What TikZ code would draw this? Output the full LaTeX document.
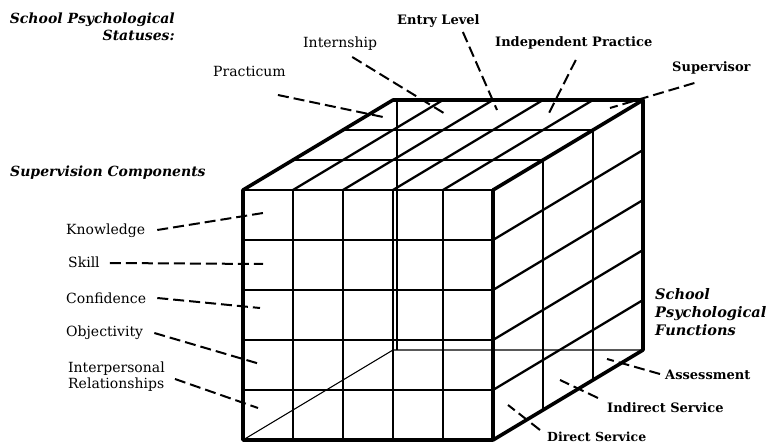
\documentclass[tikz,border=0pt]{standalone}
\usepackage{fontspec}
\setmainfont{DejaVu Serif}
\begin{document}
\begin{tikzpicture}[x=1pt,y=-1pt,
  edge/.style={line width=3.6pt, line cap=round, line join=round},
  gridln/.style={line width=2.3pt},
  hidden/.style={line width=1.1pt},
  lead/.style={line width=2pt, dash pattern=on 11pt off 5pt},
  lbl/.style={font=\fontsize{14}{16}\selectfont, inner sep=0pt},
  blbl/.style={font=\fontsize{13}{16}\selectfont\bfseries, inner sep=0pt},
  head/.style={font=\fontsize{14}{17}\selectfont\bfseries\itshape, inner sep=0pt, align=right}]
\useasboundingbox (0,0) rectangle (770,443);

% cube corners
\coordinate (A) at (243,190);
\coordinate (B) at (493,190);
\coordinate (C) at (493,440);
\coordinate (D) at (243,440);
\coordinate (E) at (393,100);
\coordinate (G) at (643,100);
\coordinate (H) at (643,350);
\coordinate (K) at (393,350);

% hidden edges
\draw[hidden] (D) -- (K) -- (H);
\draw[hidden] (397,100) -- (397,350);

% front grid
\foreach \x in {293,343,393,443} \draw[gridln] (\x,190) -- (\x,440);
\foreach \y in {240,290,340,390} \draw[gridln] (243,\y) -- (493,\y);
% top grid
\foreach \x in {293,343,393,443} \draw[gridln] (\x,190) -- (\x+150,100);
\draw[gridln] (293,160) -- (543,160);
\draw[gridln] (343,130) -- (593,130);
% right grid
\foreach \y in {240,290,340,390} \draw[gridln] (493,\y) -- (643,\y-90);
\draw[gridln] (543,160) -- (543,410);
\draw[gridln] (593,130) -- (593,380);

% outer edges
\draw[gridln] (A) -- (B);
\draw[edge] (B) -- (C) -- (D) -- (A) -- (E) -- (G) -- (H) -- (C);
\draw[edge] (B) -- (G);

% headings
\node[head, anchor=north east] (hstat) at (175,13) {School Psychological\\Statuses:};
\node[head, anchor=base west] (hsup) at (10,177) {Supervision Components};
\node[head, anchor=north west, align=left, font=\fontsize{14.5}{18}\selectfont\bfseries\itshape] (hfun) at (655,288) {School\\Psychological\\Functions};

% status labels
\node[lbl, anchor=base west] (prac) at (213,77) {Practicum};
\node[lbl, anchor=base west] (intern) at (303,48) {Internship};
\node[blbl, anchor=base west] (entry) at (397,25) {Entry Level};
\node[blbl, anchor=base west] (indep) at (495,47) {Independent Practice};
\node[blbl, anchor=base west] (superv) at (672,72) {Supervisor};

% component labels
\node[lbl, anchor=base west] (know) at (66,235) {Knowledge};
\node[lbl, anchor=base west] (skill) at (68,268) {Skill};
\node[lbl, anchor=base west] (conf) at (66,303) {Confidence};
\node[lbl, anchor=base west] (obj) at (66,336) {Objectivity};
\node[lbl, anchor=north west, align=left] (inter) at (68,362) {Interpersonal\\Relationships};

% function labels
\node[blbl, anchor=base west] (assess) at (665,379) {Assessment};
\node[blbl, anchor=base west] (indir) at (607,412) {Indirect Service};
\node[blbl, anchor=base west, font=\fontsize{12.5}{16}\selectfont\bfseries] (direct) at (547,441) {Direct Service};

% connector ends
\coordinate (ePrac) at (383,117);
\coordinate (eIntern) at (447,115);
\coordinate (eEntry) at (497,110);
\coordinate (eIndep) at (548,115);
\coordinate (eSuperv) at (610,108);
\coordinate (eKnow) at (263,213);
\coordinate (eSkill) at (263,264);
\coordinate (eConf) at (260,308);
\coordinate (eObj) at (260,364);
\coordinate (eInter) at (258,408);
\coordinate (eAssess) at (607,359);
\coordinate (eIndir) at (560,380);
\coordinate (eDirect) at (508,405);

% connectors
\draw[lead] ([shift={(-8,18)}]prac.base east) -- (ePrac);
\draw[lead] ([shift={(-25,9)}]intern.base east) -- (eIntern);
\draw[lead] ([shift={(-17,7)}]entry.base east) -- (eEntry);
\draw[lead] ([shift={(2,13)}]indep.base) -- (eIndep);
\draw[lead] ([shift={(-17,11)}]superv.base) -- (eSuperv);
\draw[lead] ([shift={(12,-5)}]know.base east) -- (eKnow);
\draw[lead] ([shift={(10,-5)}]skill.base east) -- (eSkill);
\draw[lead] ([shift={(11,-5)}]conf.base east) -- (eConf);
\draw[lead] ([shift={(11,-3)}]obj.base east) -- (eObj);
\draw[lead] ([shift={(10,2)}]inter.east) -- (eInter);
\draw[lead] ([shift={(-5,-5)}]assess.base west) -- (eAssess);
\draw[lead] ([shift={(-9,-14)}]indir.base west) -- (eIndir);
\draw[lead] ([shift={(-7,-11)}]direct.base west) -- (eDirect);
\end{tikzpicture}
\end{document}
